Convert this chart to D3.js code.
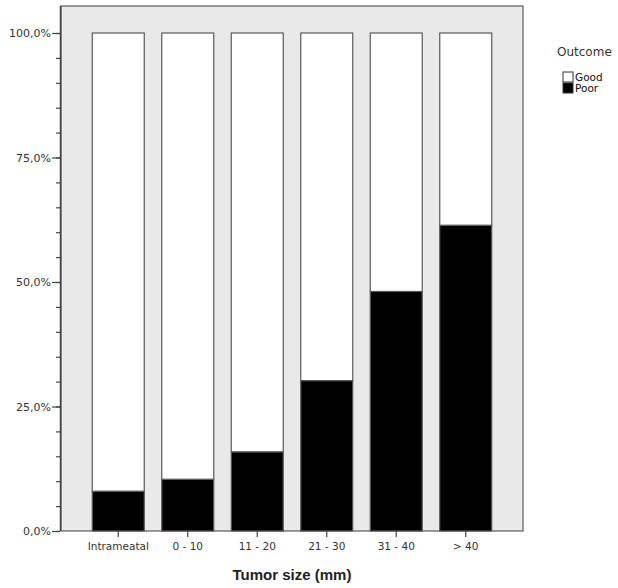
<!DOCTYPE html>
<html>
<head>
<meta charset="utf-8">
<script src="https://cdn.jsdelivr.net/npm/d3@7"></script>
<style>
  body { margin: 0; background: #fff; }
  svg { display: block; }
</style>
</head>
<body>
<div id="chart"></div>
<script>
// chart data
const categories = ['Intrameatal', '0 - 10', '11 - 20', '21 - 30', '31 - 40', '> 40'];
const poorShare = [0.080, 0.104, 0.159, 0.302, 0.481, 0.614];
const outcomes = ['Good', 'Poor'];
const outcomeColors = ['#ffffff', '#000000'];
const majorTicks = [0, 0.25, 0.5, 0.75, 1];
const minorTicks = d3.range(0, 1.0001, 0.05);

const W = 618, H = 588;
const frame = { left: 61, right: 523, top: 6, bottom: 531 };

let svg = d3.select('#chart').append('svg')
  .attr('width', W)
  .attr('height', H);

let x = d3.scaleBand()
  .domain(categories)
  .range([frame.left, frame.right])
  .paddingInner(0.252)
  .paddingOuter(0.45);

let y = d3.scaleLinear()
  .domain([0, 1])
  .range([frame.bottom, 33]);

// gray plot area
svg.append('rect')
  .attr('x', frame.left)
  .attr('y', frame.top)
  .attr('width', frame.right - frame.left)
  .attr('height', frame.bottom - frame.top)
  .attr('fill', '#e9e9e9')
  .attr('stroke', '#5a5a5a')
  .attr('stroke-width', 1.2);

// stacked bars: Poor at the bottom, Good on top
let rows = categories.map((c, i) => ({ cat: c, Poor: poorShare[i], Good: 1 - poorShare[i] }));
let stack = d3.stack().keys(['Poor', 'Good'])(rows);

let color = d3.scaleOrdinal().domain(outcomes).range(outcomeColors);

svg.append('g').selectAll('g')
  .data(stack)
  .join('g')
  .attr('fill', d => color(d.key))
  .selectAll('rect')
  .data(d => d)
  .join('rect')
  .attr('x', d => x(d.data.cat))
  .attr('width', x.bandwidth())
  .attr('y', d => y(d[1]))
  .attr('height', d => y(d[0]) - y(d[1]))
  .attr('stroke', '#5a5a5a')
  .attr('stroke-width', 1.2);

// y axis: minor ticks every 5%, labelled major ticks every 25%
let fmt = d => d3.format('.1f')(d * 100).replace('.', ',') + '%';

let yMinor = svg.append('g')
  .attr('transform', 'translate(60,0)')
  .call(d3.axisLeft(y).tickValues(minorTicks).tickSize(4).tickFormat(''));
yMinor.select('.domain').remove();

let yMajor = svg.append('g')
  .attr('transform', 'translate(60,0)')
  .call(d3.axisLeft(y).tickValues(majorTicks).tickSize(8).tickPadding(1).tickFormat(fmt));
yMajor.select('.domain').remove();

svg.selectAll('.tick line').attr('stroke', '#444').attr('stroke-width', 1.2);

svg.append('line')
  .attr('x1', 60.5).attr('x2', 60.5)
  .attr('y1', frame.top).attr('y2', frame.bottom)
  .attr('stroke', '#444')
  .attr('stroke-width', 1.5);

yMajor.selectAll('text')
  .attr('font-family', 'DejaVu Sans')
  .attr('font-size', 11)
  .attr('fill', '#333');

// x axis
let xAxis = svg.append('g')
  .attr('transform', `translate(0,${frame.bottom})`)
  .call(d3.axisBottom(x).tickSize(6).tickPadding(6));
xAxis.select('.domain').remove();
xAxis.selectAll('.tick line').attr('stroke', '#444').attr('stroke-width', 1.2);
xAxis.selectAll('text')
  .attr('font-family', 'DejaVu Sans')
  .attr('font-size', 10.5)
  .attr('fill', '#333');

svg.append('text')
  .attr('x', (frame.left + frame.right) / 2)
  .attr('y', 580)
  .attr('text-anchor', 'middle')
  .attr('font-family', 'Liberation Sans')
  .attr('font-weight', 'bold')
  .attr('font-size', 15)
  .attr('fill', '#222')
  .text('Tumor size (mm)');

// legend
svg.append('text')
  .attr('x', 557)
  .attr('y', 56)
  .attr('font-family', 'DejaVu Sans')
  .attr('font-size', 12)
  .attr('fill', '#333')
  .text('Outcome');

let leg = svg.append('g').selectAll('g')
  .data(outcomes)
  .join('g')
  .attr('transform', (d, i) => `translate(563,${72 + i * 11})`);

leg.append('rect')
  .attr('width', 10)
  .attr('height', 10)
  .attr('fill', d => color(d))
  .attr('stroke', '#333')
  .attr('stroke-width', 1);

leg.append('text')
  .attr('x', 12)
  .attr('y', 9)
  .attr('font-family', 'DejaVu Sans')
  .attr('font-size', 10.5)
  .attr('fill', '#111')
  .text(d => d);
</script>
</body>
</html>
